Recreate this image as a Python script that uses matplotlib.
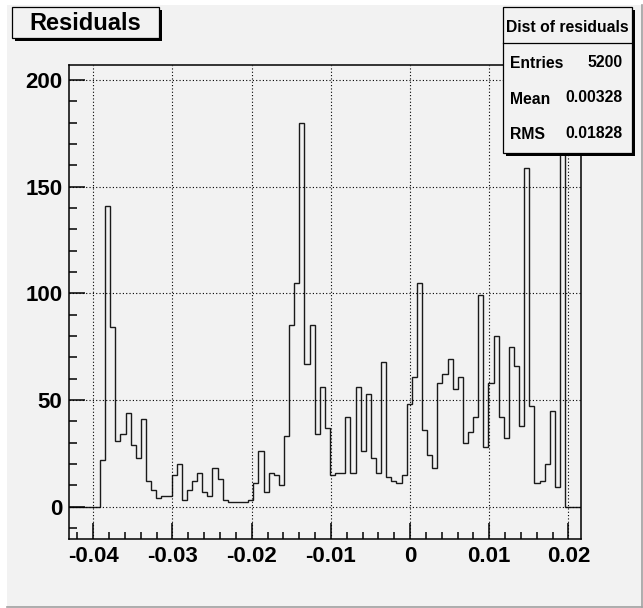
import numpy as np
import matplotlib
matplotlib.use('Agg')
import matplotlib.pyplot as plt
from matplotlib.patches import Rectangle
from matplotlib.lines import Line2D
from matplotlib.ticker import MultipleLocator

plt.rcParams['font.family'] = ['Liberation Sans', 'DejaVu Sans']
plt.rcParams['font.weight'] = 'bold'

# histogram: 100 bins between x_lo and x_hi
x_lo = -0.04303
x_hi = 0.02152
counts = [0, 0, 0, 0, 0, 0,
          22, 141, 84, 31, 34, 44, 29, 23, 41, 12,
          8, 4, 5, 5, 15, 20, 3, 8, 12, 16,
          7, 5, 18, 13, 3, 2, 2, 2, 2, 3,
          11, 26, 7, 16, 15, 10, 33, 85, 105, 180,
          67, 85, 34, 56, 37, 15, 16, 16, 42, 16,
          56, 26, 53, 23, 16, 68, 14, 12, 11, 15,
          48, 61, 105, 36, 24, 18, 58, 62, 69, 55,
          61, 30, 35, 42, 99, 28, 58, 80, 42, 32,
          75, 66, 38, 159, 47, 11, 12, 20, 45, 9,
          1895, 0, 0, 0]

x_ticks = [-0.04, -0.03, -0.02, -0.01, 0, 0.01, 0.02]
x_labels = ['-0.04', '-0.03', '-0.02', '-0.01', '0', '0.01', '0.02']
y_ticks = [0, 50, 100, 150, 200]

title = 'Residuals'
stats_title = 'Dist of residuals'
stats_names = ['Entries', 'Mean', 'RMS']
stats_values = ['5200', '0.00328', '0.01828']

W, H = 643, 608
bg = '#f2f2f2'

fig = plt.figure(figsize=(W / 100, H / 100), dpi=100)
fig.patch.set_facecolor('white')


def px(x0, y0, x1, y1):
    # pixel box (top-left origin) -> figure fraction rect
    return (x0 / W, 1 - y1 / H, (x1 - x0) / W, (y1 - y0) / H)


# canvas pad
r = px(7, 5, 642, 607)
fig.patches.append(Rectangle(r[:2], r[2], r[3], transform=fig.transFigure,
                             facecolor=bg, edgecolor='none', zorder=-2))
fig.lines.append(Line2D([7 / W, 642 / W], [1 - 607 / H] * 2, transform=fig.transFigure,
                        color='#a0a0a0', lw=1.2, zorder=-1))
fig.lines.append(Line2D([642 / W] * 2, [1 - 607 / H, 1 - 5 / H], transform=fig.transFigure,
                        color='#a0a0a0', lw=1.2, zorder=-1))

ax = fig.add_axes(px(69.3, 64.7, 580.5, 539.3))
ax.set_zorder(1)
ax.set_facecolor(bg)

edges = np.linspace(x_lo, x_hi, len(counts) + 1)
ax.stairs(counts, edges, color='#1a1a1a', lw=1.0)

ax.set_xlim(x_lo, x_hi)
ax.set_ylim(-15.3, 207.2)
ax.set_xticks(x_ticks)
ax.set_xticklabels(x_labels)
ax.set_yticks(y_ticks)
ax.xaxis.set_minor_locator(MultipleLocator(0.002))
ax.yaxis.set_minor_locator(MultipleLocator(10))
ax.tick_params(which='both', direction='in', top=False, right=False, width=1.1,
               labelsize=16, colors='black')
ax.tick_params(which='major', length=11.3, pad=5)
ax.tick_params(which='minor', length=5.4)
for lab in ax.get_xticklabels() + ax.get_yticklabels():
    lab.set_fontweight('bold')
ax.grid(True, which='major', color='black', ls=(0, (1, 2)), lw=0.8)
for s in ax.spines.values():
    s.set_linewidth(1.1)
    s.set_color('black')


def box(x0, y0, x1, y1):
    sh = px(x0 + 3, y0 + 3, x1 + 3, y1 + 3)
    fig.patches.append(Rectangle(sh[:2], sh[2], sh[3], transform=fig.transFigure,
                                 facecolor='black', edgecolor='none', zorder=5))
    b = px(x0, y0, x1, y1)
    fig.patches.append(Rectangle(b[:2], b[2], b[3], transform=fig.transFigure,
                                 facecolor=bg, edgecolor='black', lw=0.9, zorder=6))


# title box
box(11.7, 7.3, 159.3, 38.3)
fig.text(85.5 / W, 1 - 23 / H, title, ha='center', va='center',
         fontsize=17, fontweight='bold', zorder=7)

# stats box
box(503.3, 7.3, 631.7, 152.7)
fig.lines.append(Line2D([503.3 / W, 631.7 / W], [1 - 43.3 / H] * 2,
                        transform=fig.transFigure, color='black', lw=0.9, zorder=7))
fig.text(567.5 / W, 1 - 27.3 / H, stats_title, ha='center', va='center',
         fontsize=11.3, fontweight='bold', zorder=7)
for i, (nm, val) in enumerate(zip(stats_names, stats_values)):
    y = 63.5 + 35.5 * i
    fig.text(510 / W, 1 - y / H, nm, ha='left', va='center',
             fontsize=11.3, fontweight='bold', zorder=7)
    fig.text(623 / W, 1 - (y - 1) / H, val, ha='right', va='center',
             fontsize=11.3, fontweight='bold', zorder=7)

fig.savefig('out.png', dpi=100, facecolor='white')
